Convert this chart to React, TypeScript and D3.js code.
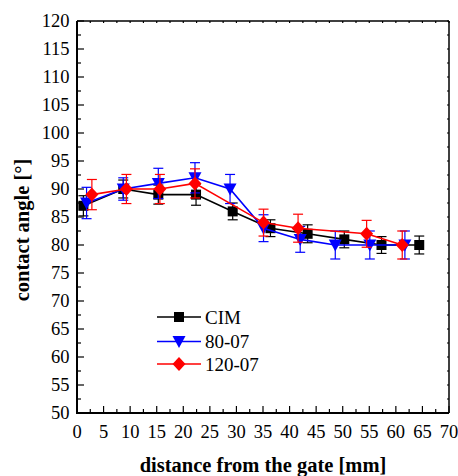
import React from "react";
import * as d3 from "d3";

const cimX = [1.2, 8.7, 15.3, 22.4, 29.3, 36.4, 43.4, 50.3, 57.3, 64.4];
const cimY = [87, 90, 89, 89, 86, 83, 82, 81, 80, 80];
const cimErr = [1.8, 1.6, 1.7, 1.9, 1.5, 1.5, 1.6, 1.5, 1.5, 1.6];

const b80X = [1.8, 8.7, 15.3, 22.2, 28.8, 35.1, 42, 48.6, 55.1, 61.7];
const b80Y = [87.5, 90, 91, 92, 90, 83, 81, 80, 80, 80];
const b80Err = [2.8, 2.0, 2.7, 2.7, 2.6, 2.4, 2.3, 2.5, 2.5, 2.5];

const r120X = [2.8, 9.3, 15.6, 22.2, 35.1, 41.6, 54.5, 61.2];
const r120Y = [89, 90, 90, 91, 84, 83, 82, 80];
const r120Err = [2.7, 2.6, 2.6, 2.6, 2.4, 2.5, 2.4, 2.5];

const seriesNames = ["CIM", "80-07", "120-07"];
const xTicks = d3.range(0, 71, 5);
const yTicks = d3.range(50, 121, 5);

const W = 458, H = 476;
const L = 77, R = 449, T = 21, B = 413;

export default function App() {
  const x = d3.scaleLinear().domain([0, 70]).range([L, R]);
  const y = d3.scaleLinear().domain([50, 120]).range([B, T]);
  const line = d3.line<[number, number]>().x(d => x(d[0])).y(d => y(d[1]));
  const font = "'Liberation Serif', 'Times New Roman', serif";

  const series = [
    { name: seriesNames[0], xs: cimX, ys: cimY, err: cimErr, color: "#000000", shape: "square" },
    { name: seriesNames[1], xs: b80X, ys: b80Y, err: b80Err, color: "#0000ff", shape: "tri" },
    { name: seriesNames[2], xs: r120X, ys: r120Y, err: r120Err, color: "#ff0000", shape: "diamond" },
  ];

  const marker = (shape: string, cx: number, cy: number, color: string, key: any) => {
    if (shape === "square") return <rect key={key} x={cx - 5} y={cy - 5} width={10} height={10} fill={color} />;
    if (shape === "tri") return <path key={key} d={`M${cx - 6.5},${cy - 5.5}L${cx + 6.5},${cy - 5.5}L${cx},${cy + 6.5}Z`} fill={color} />;
    return <path key={key} d={`M${cx},${cy - 7}L${cx + 6.5},${cy}L${cx},${cy + 7}L${cx - 6.5},${cy}Z`} fill={color} />;
  };

  const minorX = d3.range(0, 70.01, 2.5);
  const minorY = d3.range(50, 120.01, 2.5);

  return (
    <svg width={W} height={H} style={{ position: "absolute", left: 0, top: 0 }}>
      <rect x={0} y={0} width={W} height={H} fill="#fff" />
      {series.map((s, si) => (
        <g key={si}>
          {s.xs.map((xv, i) => {
            const cx = x(xv), y1 = y(s.ys[i] + s.err[i]), y2 = y(s.ys[i] - s.err[i]);
            return (
              <g key={i} stroke={s.color} strokeWidth={1.2}>
                <line x1={cx} x2={cx} y1={y1} y2={y2} />
                <line x1={cx - 5} x2={cx + 5} y1={y1} y2={y1} />
                <line x1={cx - 5} x2={cx + 5} y1={y2} y2={y2} />
              </g>
            );
          })}
          <path d={line(s.xs.map((xv, i) => [xv, s.ys[i]]) as [number, number][]) || ""} fill="none" stroke={s.color} strokeWidth={1.6} />
          {s.xs.map((xv, i) => marker(s.shape, x(xv), y(s.ys[i]), s.color, i))}
        </g>
      ))}
      {/* frame */}
      <line x1={L} x2={R} y1={T} y2={T} stroke="#000" strokeWidth={1.5} />
      <line x1={R} x2={R} y1={T} y2={B} stroke="#000" strokeWidth={1.5} />
      <line x1={L} x2={L} y1={T} y2={B + 1} stroke="#000" strokeWidth={2} />
      <line x1={L - 1} x2={R} y1={B} y2={B} stroke="#000" strokeWidth={2} />
      {minorX.map((v, i) => {
        const major = i % 2 === 0;
        return (
          <g key={"xt" + i} stroke="#000" strokeWidth={1.2}>
            <line x1={x(v)} x2={x(v)} y1={B} y2={B - (major ? 7 : 4)} />
            <line x1={x(v)} x2={x(v)} y1={T} y2={T + 2} />
          </g>
        );
      })}
      {minorY.map((v, i) => {
        const major = i % 2 === 0;
        return (
          <g key={"yt" + i} stroke="#000" strokeWidth={1.2}>
            <line x1={L} x2={L + (major ? 7 : 4)} y1={y(v)} y2={y(v)} />
            <line x1={R} x2={R - 2} y1={y(v)} y2={y(v)} />
          </g>
        );
      })}
      {xTicks.map(v => (
        <text key={"xl" + v} x={x(v)} y={437.5} textAnchor="middle" fontFamily={font} fontSize={18.5} fill="#000">{v}</text>
      ))}
      {yTicks.map(v => (
        <text key={"yl" + v} x={69.5} y={y(v) + 6} textAnchor="end" fontFamily={font} fontSize={18.5} fill="#000">{v}</text>
      ))}
      <text x={263} y={472} textAnchor="middle" fontFamily={font} fontSize={20.5} fontWeight="bold" fill="#000">distance from the gate [mm]</text>
      <text transform={`translate(29,230) rotate(-90)`} textAnchor="middle" fontFamily={font} fontSize={20.5} fontWeight="bold" fill="#000">contact angle [°]</text>
      {series.map((s, i) => {
        const ly = [317, 341.5, 364][i];
        return (
          <g key={"lg" + i}>
            <line x1={157} x2={201} y1={ly} y2={ly} stroke={s.color} strokeWidth={1.6} />
            {marker(s.shape, 179, ly, s.color, "m")}
            <text x={205} y={ly + 6.5} fontFamily={font} fontSize={19} fill="#000">{s.name}</text>
          </g>
        );
      })}
    </svg>
  );
}
